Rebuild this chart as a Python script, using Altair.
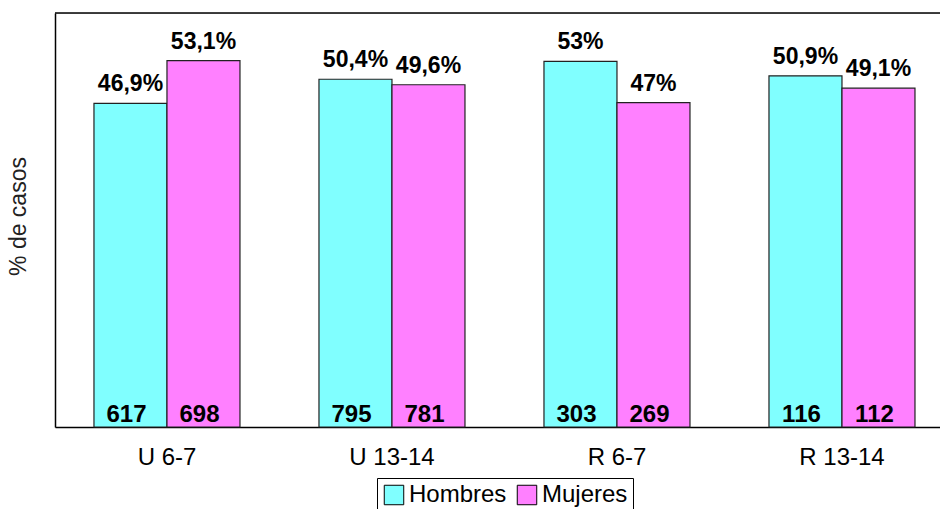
import altair as alt
import pandas as pd

categories = ["U 6-7", "U 13-14", "R 6-7", "R 13-14"]
sexes = ["Hombres", "Mujeres"]
hombres_pct = [46.9, 50.4, 53.0, 50.9]
mujeres_pct = [53.1, 49.6, 47.0, 49.1]
hombres_n = [617, 795, 303, 116]
mujeres_n = [698, 781, 269, 112]
colors = ["#80FFFF", "#FF80FF"]


def fmt(v):
    s = f"{v:.1f}".replace(".", ",")
    if s.endswith(",0"):
        s = s[:-2]
    return s + "%"


rows = []
for i, c in enumerate(categories):
    rows.append(dict(cat=c, sexo="Hombres", pct=hombres_pct[i], n=hombres_n[i]))
    rows.append(dict(cat=c, sexo="Mujeres", pct=mujeres_pct[i], n=mujeres_n[i]))
df = pd.DataFrame(rows)
df["label"] = df["pct"].map(fmt)

W, H = 885, 414
FONT = "Liberation Sans"

x = alt.X(
    "cat:N",
    sort=categories,
    scale=alt.Scale(paddingInner=0.3511, paddingOuter=0.1422, align=0.609),
    axis=alt.Axis(
        title=None, labelAngle=0, labelFontSize=24, labelFont=FONT, labelColor="black",
        labelPadding=18, ticks=False, tickSize=0, domainColor="black", domainWidth=1.5,
    ),
)
xo = alt.XOffset("sexo:N", sort=sexes, scale=alt.Scale(paddingInner=0, paddingOuter=0))
y = alt.Y(
    "pct:Q",
    scale=alt.Scale(domain=[0, 60], nice=False),
    axis=alt.Axis(
        title="% de casos", labels=False, ticks=False, grid=False, domainColor="black",
        domainWidth=1.5, titleFontSize=23, titleFontWeight="normal", titleFont=FONT,
        titleColor="#222", titleX=-30, titleY=203, titleBaseline="alphabetic", titleAngle=270,
    ),
)
color = alt.Color(
    "sexo:N",
    sort=sexes,
    scale=alt.Scale(domain=sexes, range=colors),
    legend=alt.Legend(
        title=None, orient="none", legendX=322, legendY=465, direction="horizontal",
        labelFontSize=24, labelFont=FONT, labelColor="black", symbolType="square",
        symbolSize=380, symbolStrokeColor="black", symbolStrokeWidth=1, symbolOpacity=1,
        labelOffset=3, columnPadding=8, padding=5, strokeColor="black", fillColor="white",
    ),
)

base = alt.Chart(df)
bars = base.mark_bar(stroke="#222", strokeWidth=1.2, opacity=1).encode(x=x, xOffset=xo, y=y, color=color)
pct_text = base.mark_text(baseline="alphabetic", dy=-12, fontSize=23, fontWeight="bold", font=FONT, color="black").encode(
    x=x, xOffset=xo, y=y, text="label:N"
)
n_text = base.mark_text(baseline="alphabetic", dy=-5, dx=-4, fontSize=24, fontWeight="bold", font=FONT, color="black").encode(
    x=x, xOffset=xo, y=alt.datum(0), text="n:Q"
)
top = alt.Chart(pd.DataFrame({"a": [0]})).mark_rule(color="black", strokeWidth=1.5).encode(
    x=alt.value(0), x2=alt.value(W), y=alt.value(0)
)

chart = (
    alt.layer(bars, pct_text, n_text, top)
    .properties(
        width=W, height=H,
        autosize=alt.AutoSizeParams(type="none"),
        padding={"left": 55, "top": 13, "right": 0, "bottom": 82},
        background="white",
    )
    .configure_view(stroke=None)
    .configure(font=FONT)
)

chart.save("out.html", embed_options={"renderer": "svg", "actions": False})
